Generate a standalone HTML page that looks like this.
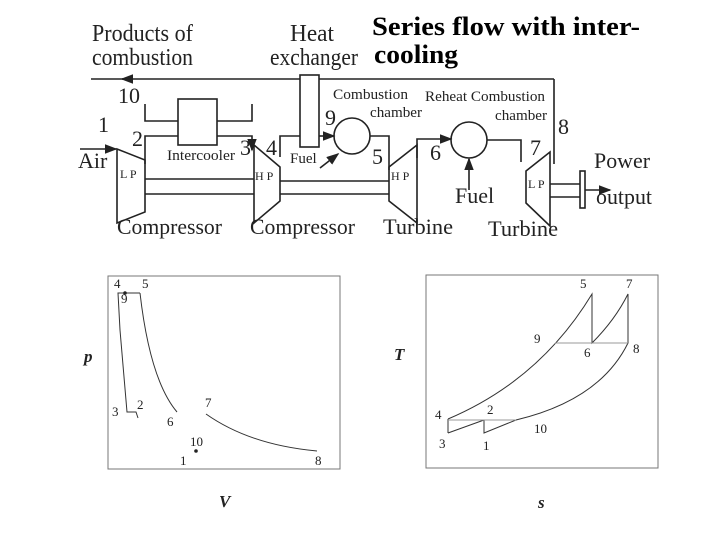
<!DOCTYPE html>
<html><head><meta charset="utf-8"><style>
html,body{margin:0;padding:0;background:#fff;}
svg{display:block;}
text{font-family:"Liberation Serif",serif;fill:#222;}
</style></head><body>
<svg width="720" height="540" viewBox="0 0 720 540" xmlns="http://www.w3.org/2000/svg">
<defs><marker id="a" markerWidth="8" markerHeight="6" refX="7" refY="3" orient="auto"><path d="M0,0L8,3L0,6z" fill="#222"/></marker></defs>
<g font-size="24">
<text x="92" y="41" textLength="101" lengthAdjust="spacingAndGlyphs">Products of</text>
<text x="92" y="65" textLength="101" lengthAdjust="spacingAndGlyphs">combustion</text>
<text x="290" y="41" textLength="44" lengthAdjust="spacingAndGlyphs">Heat</text>
<text x="270" y="65" textLength="88" lengthAdjust="spacingAndGlyphs">exchanger</text>
</g>
<text x="372" y="35" font-size="26" font-weight="bold" style="fill:#000" textLength="268" lengthAdjust="spacingAndGlyphs">Series flow with inter-</text>
<text x="374" y="63" font-size="26" font-weight="bold" style="fill:#000" textLength="84" lengthAdjust="spacingAndGlyphs">cooling</text>

<g stroke="#222" stroke-width="1.6" fill="none">
<line x1="91" y1="79" x2="554" y2="79"/>
<line x1="554" y1="79" x2="554" y2="164"/>
<line x1="130" y1="79" x2="122" y2="79" marker-end="url(#a)"/>
<rect x="300" y="75" width="19" height="72" fill="#fff"/>
<rect x="178" y="99" width="39" height="46"/>
<polyline points="145,104 145,121 178,121"/><polyline points="217,121 252,121 252,104"/>
<polyline points="145,164 145,136 178,136"/><polyline points="217,136 252,136 252,150" marker-end="url(#a)"/>
<line x1="80" y1="149" x2="116" y2="149" marker-end="url(#a)"/>
<polygon points="117,149 145,160 145,212 117,223"/>
<polygon points="254,145 280,167 280,201 254,223"/>
<polygon points="389,167 417,145 417,223 389,201"/>
<polygon points="526,171 550,152 550,226 526,203"/>
<line x1="145" y1="179" x2="254" y2="179"/><line x1="145" y1="194" x2="254" y2="194"/>
<line x1="280" y1="181" x2="389" y2="181"/><line x1="280" y1="194" x2="389" y2="194"/>
<line x1="550" y1="184" x2="580" y2="184"/><line x1="550" y1="197" x2="580" y2="197"/>
<rect x="580" y="171" width="5" height="37"/>
<line x1="585" y1="190" x2="610" y2="190" marker-end="url(#a)"/>
<circle cx="352" cy="136" r="18"/><circle cx="469" cy="140" r="18"/>
<polyline points="280,157 280,136 300,136"/>
<line x1="319" y1="136" x2="334" y2="136" marker-end="url(#a)"/>
<polyline points="370,136 389,136 389,170"/>
<polyline points="417,158 417,139 451,139" marker-end="url(#a)"/>
<polyline points="487,140 521,140 521,162"/>
<line x1="320" y1="168" x2="338" y2="154" marker-end="url(#a)"/>
<line x1="469" y1="190" x2="469" y2="159" marker-end="url(#a)"/>
</g>
<g font-size="22">
<text x="118" y="103">10</text><text x="98" y="132">1</text><text x="132" y="146">2</text>
<text x="240" y="155">3</text><text x="266" y="155">4</text><text x="325" y="125">9</text>
<text x="372" y="164">5</text><text x="430" y="160">6</text><text x="530" y="155">7</text><text x="558" y="134">8</text>
<text x="78" y="168">Air</text>
<text x="455" y="203">Fuel</text>
<text x="594" y="168" textLength="56" lengthAdjust="spacingAndGlyphs">Power</text>
<text x="596" y="204" textLength="56" lengthAdjust="spacingAndGlyphs">output</text>
<text x="117" y="234" textLength="105" lengthAdjust="spacingAndGlyphs">Compressor</text>
<text x="250" y="234" textLength="105" lengthAdjust="spacingAndGlyphs">Compressor</text>
<text x="383" y="234" textLength="70" lengthAdjust="spacingAndGlyphs">Turbine</text>
<text x="488" y="236" textLength="70" lengthAdjust="spacingAndGlyphs">Turbine</text>
</g>
<g font-size="15">
<text x="167" y="160" textLength="68" lengthAdjust="spacingAndGlyphs">Intercooler</text>
<text x="290" y="163">Fuel</text>
<text x="333" y="99" textLength="75" lengthAdjust="spacingAndGlyphs">Combustion</text>
<text x="370" y="117" textLength="52" lengthAdjust="spacingAndGlyphs">chamber</text>
<text x="425" y="101" textLength="120" lengthAdjust="spacingAndGlyphs">Reheat Combustion</text>
<text x="495" y="120" textLength="52" lengthAdjust="spacingAndGlyphs">chamber</text>
<text x="120" y="178" font-size="12">L P</text><text x="255" y="180" font-size="12">H P</text>
<text x="391" y="180" font-size="12">H P</text><text x="528" y="188" font-size="12">L P</text>
</g>

<g stroke="#333" fill="none" stroke-width="1">
<rect x="108" y="276" width="232" height="193" stroke="#777"/>
<rect x="426" y="275" width="232" height="193" stroke="#777"/>
<polyline points="140,293 118,293 120,330 127,412 136,412 138,418 Q145,445 167,451 L317,451"/>
<path d="M140,293 Q150,380 177,412"/>
<path d="M206,414 Q250,445 317,451"/>
<path d="M448,419 Q540,380 592,294 L592,343 Q615,320 628,294 L628,343 Q600,400 516,420 L484,433 L484,420"/>
<path d="M448,433 L484,420"/>
<line x1="448" y1="419" x2="448" y2="433"/>
<line x1="448" y1="420" x2="516" y2="420" stroke="#999"/>
<line x1="555" y1="343" x2="628" y2="343" stroke="#999"/>
</g>
<circle cx="125" cy="293" r="1.8" fill="#222"/><circle cx="196" cy="451" r="1.8" fill="#222"/>
<g font-size="13">
<text x="114" y="288">4</text><text x="142" y="288">5</text><text x="121" y="303">9</text>
<text x="112" y="416">3</text><text x="137" y="409">2</text><text x="167" y="426">6</text><text x="205" y="407">7</text>
<text x="190" y="446">10</text><text x="180" y="465">1</text><text x="315" y="465">8</text>
<text x="435" y="419">4</text><text x="439" y="448">3</text><text x="487" y="414">2</text><text x="483" y="450">1</text>
<text x="534" y="433">10</text><text x="534" y="343">9</text><text x="584" y="357">6</text><text x="633" y="353">8</text>
<text x="580" y="288">5</text><text x="626" y="288">7</text>
</g>
<g font-size="17" font-style="italic" font-weight="bold">
<text x="84" y="362">p</text><text x="219" y="507">V</text><text x="394" y="360">T</text><text x="538" y="508">s</text>
</g>
</svg>
</body></html>
